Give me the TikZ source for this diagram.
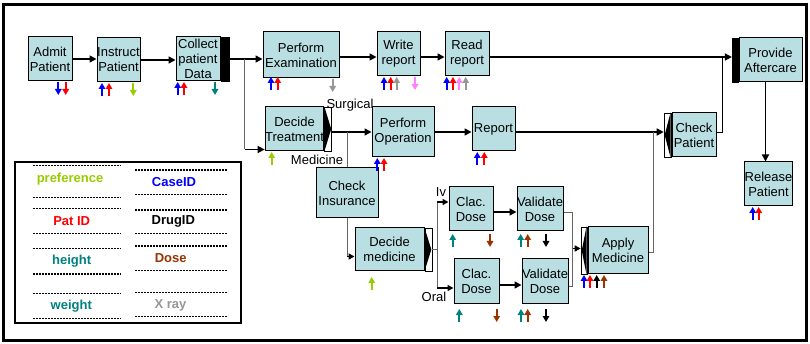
\documentclass[tikz,border=0pt]{standalone}
\usepackage{fontspec}
\setmainfont{Liberation Sans}
\usetikzlibrary{arrows.meta,calc}
\definecolor{boxfill}{RGB}{186,223,227}
\definecolor{cLime}{RGB}{153,204,0}
\definecolor{cBlue}{RGB}{0,0,255}
\definecolor{cRed}{RGB}{255,0,0}
\definecolor{cTeal}{RGB}{0,128,128}
\definecolor{cBrown}{RGB}{153,51,0}
\definecolor{cGray}{RGB}{150,150,150}
\definecolor{cPink}{RGB}{255,128,255}
% small data-flow marker below a task: #1 colour, #2 x, #3 top y, #4 1=up / 0=down
\newcommand\datamark[4]{%
  \ifnum#4=1
    \draw[mk,#1] (#2,#3+13) -- (#2,#3);
  \else
    \draw[mk,#1] (#2,#3) -- (#2,#3+13);
  \fi}
\begin{document}
\begin{tikzpicture}[x=1pt,y=-1pt,
  box/.style={draw=black, fill=boxfill, line width=1pt, inner sep=0pt,
    align=center, font=\fontsize{13}{15}\selectfont},
  andbar/.style={draw=black, fill=black, line width=0.6pt, inner sep=0pt},
  gate/.style={draw=black, fill=white, line width=0.8pt, inner sep=0pt},
  flow/.style={line width=1.6pt, -{Triangle[length=7pt,width=7pt]}},
  flowsm/.style={line width=1.6pt, -{Triangle[length=6pt,width=6pt]}},
  thinline/.style={line width=0.9pt, draw=black!60},
  mk/.style={line width=1.9pt, -{Triangle[length=6pt,width=6.5pt]}},
  lbl/.style={font=\fontsize{13}{15}\selectfont, inner sep=0pt},
  lg/.style={font=\bfseries\fontsize{13}{15}\selectfont, inner sep=0pt},
  legdash/.style={line width=1.3pt, dash pattern=on 2pt off 1pt}]
\useasboundingbox (0,0) rectangle (810,344);
\fill[white] (0,0) rectangle (810,344);
\draw[line width=3pt] (3,5) rectangle (806,340);

% ---------- tasks ----------
\node[box, minimum width=44pt, minimum height=44pt] (admit) at (50,59) {Admit\\Patient};
\node[box, minimum width=43pt, minimum height=44pt] (instruct) at (118.5,60) {Instruct\\Patient};
\node[box, minimum width=44pt, minimum height=44pt] (collect) at (198,59) {Collect\\patient\\Data};
\node[andbar, minimum width=8pt, minimum height=44pt, anchor=west] (collectbar) at (collect.east) {};
\node[box, minimum width=76pt, minimum height=46pt] (exam) at (301,55) {Perform\\Examination};
\node[box, minimum width=43pt, minimum height=44pt] (write) at (398.5,54) {Write\\report};
\node[box, minimum width=44pt, minimum height=44pt] (read) at (467,54) {Read\\report};
\node[box, minimum width=63pt, minimum height=44pt] (after) at (770.5,60) {Provide\\Aftercare};
\node[andbar, minimum width=6pt, minimum height=44pt, anchor=east] (afterbar) at (after.west) {};
\node[box, minimum width=45pt, minimum height=44pt] (release) at (768.5,184) {Release\\Patient};

\node[box, minimum width=57pt, minimum height=44pt] (treat) at (294.5,129) {Decide\\Treatment};
\node[gate, minimum width=7pt, minimum height=44pt, anchor=west] (treatgate) at (treat.east) {};
\fill (treatgate.north west) -- ([xshift=-1pt]treatgate.east) -- (treatgate.south west) -- cycle;
\node[box, minimum width=62pt, minimum height=50pt] (performop) at (403,132) {Perform\\Operation};
\node[box, minimum width=43pt, minimum height=44pt] (report) at (493.5,129) {Report};
\node[box, minimum width=44pt, minimum height=44pt] (checkp) at (694,135) {Check\\Patient};
\node[gate, minimum width=7pt, minimum height=44pt, anchor=east] (checkgate) at (checkp.west) {};
\fill ([xshift=-1pt]checkgate.north east) -- ([xshift=1pt]checkgate.west) -- ([xshift=-1pt]checkgate.south east) -- cycle;

\node[box, minimum width=62pt, minimum height=50pt] (checkins) at (347,193) {Check\\Insurance};
\node[box, minimum width=69pt, minimum height=43pt] (decidemed) at (389.5,249.5) {Decide\\medicine};
\node[gate, minimum width=7pt, minimum height=43pt, anchor=west] (medgate) at (decidemed.east) {};
\fill (medgate.north west) -- ([xshift=-1pt]medgate.east) -- (medgate.south west) -- cycle;

\node[box, minimum width=44pt, minimum height=44pt] (clac1) at (471,209) {Clac.\\Dose};
\node[box, minimum width=45pt, minimum height=44pt] (clac2) at (476.5,281) {Clac.\\Dose};
\node[box, minimum width=44pt, minimum height=44pt] (val1) at (540,209) {Validate\\Dose};
\node[box, minimum width=44pt, minimum height=44pt] (val2) at (545,281) {Validate\\Dose};
\node[box, minimum width=60pt, minimum height=47pt] (apply) at (618,250.5) {Apply\\Medicine};
\node[gate, minimum width=6pt, minimum height=47pt, anchor=east] (applygate) at (apply.west) {};
\fill ([xshift=-1pt]applygate.north east) -- ([xshift=1pt]applygate.west) -- ([xshift=-1pt]applygate.south east) -- cycle;

% ---------- connectors ----------
\coordinate (yTop) at (0,57);
\coordinate (yMid) at (0,132);
\draw[flow] (admit.east) -- (admit.east -| instruct.west);
\draw[flow] (instruct.east) -- (instruct.east -| collect.west);
\draw[flow] (collectbar.east) -- (collectbar.east -| exam.west);
\coordinate (split) at ($(collectbar.east)!0.47!(collectbar.east -| exam.west)$);
\coordinate (treatin) at ([yshift=2pt]treat.south west);
\draw[thinline] (split) -- (split |- treatin);
\draw[flow] (split |- treatin) -- (treatin);

\draw[flow] (exam.east |- yTop) -- (write.west |- yTop);
\draw[flow] (write.east |- yTop) -- (read.west |- yTop);
\draw[flow] (read.east |- yTop) -- (afterbar.west |- yTop);
\coordinate (cpout) at ([xshift=6pt]checkp.east);
\draw[line width=0.9pt] (checkp.east |- yMid) -- (cpout |- yMid) -- (cpout |- yTop);
\draw[flow] ([xshift=-3pt]release.north |- after.south) -- ([xshift=-3pt]release.north);

\draw[flow] (treatgate.east |- yMid) -- (performop.west |- yMid);
\draw[flow] (performop.east |- yMid) -- (report.west |- yMid);
\draw[flow] (report.east |- yMid) -- (checkgate.west |- yMid);
\draw[thinline] (checkins.north) -- (checkins.north |- yMid);

\coordinate (medin) at ([yshift=-7pt]decidemed.west);
\draw[thinline] (checkins.south) -- (checkins.south |- medin);
\draw[flowsm] (checkins.south |- medin) -- (medin);

\coordinate (msplit) at ([xshift=5pt]medgate.east);
\coordinate (ivin) at ([yshift=7pt]clac1.west);
\coordinate (oralin) at ([yshift=-7pt]clac2.west);
\draw[thinline] (medgate.east) -- (msplit);
\draw[thinline] (msplit |- ivin) -- (msplit |- oralin);
\draw[flowsm] (msplit |- ivin) -- (ivin);
\draw[flowsm] (msplit |- oralin) -- (oralin);

\draw[flow] ([yshift=-3pt]clac1.east) -- ([yshift=-3pt]clac1.east -| val1.west);
\draw[flow] ([yshift=-4pt]clac2.east) -- ([yshift=-4pt]clac2.east -| val2.west);

\coordinate (vj) at ([xshift=-8pt,yshift=2pt]applygate.west);
\draw[thinline] ([yshift=-3pt]val1.east) -- ([yshift=-3pt]val1.east -| vj)
  -- ([yshift=-5pt]val2.east -| vj) -- ([yshift=-5pt]val2.east);
\draw[flowsm] (vj) -- (vj -| applygate.west);
\coordinate (aout) at ([xshift=5pt,yshift=-2pt]apply.east);
\draw[thinline] ([yshift=-2pt]apply.east) -- (aout) -- (aout |- yMid);

% ---------- branch labels ----------
\node[lbl] (lsurg) at (350,105) {Surgical};
\node[lbl] (lmed) at (317,160) {Medicine};
\node[lbl] (liv) at (441,192) {Iv};
\node[lbl] (loral) at (434,297) {Oral};

% ---------- data markers ----------
\datamark{cBlue}{58.3}{82}{0}  \datamark{cRed}{65.7}{82}{0}
\datamark{cBlue}{102}{83}{1}   \datamark{cRed}{109}{83}{1}   \datamark{cLime}{133.3}{83}{0}
\datamark{cBlue}{177.7}{82}{1} \datamark{cRed}{184}{82}{1}   \datamark{cTeal}{215}{82}{0}
\datamark{cBlue}{271}{77}{1}   \datamark{cRed}{277.7}{77}{1} \datamark{cGray}{332.7}{79}{0}
\datamark{cBlue}{384}{77}{1}   \datamark{cRed}{390.7}{77}{1} \datamark{cGray}{396.7}{77}{1}
\datamark{cPink}{415}{77}{0}
\datamark{cBlue}{446.7}{77}{1} \datamark{cRed}{453}{77}{1}   \datamark{cPink}{459.3}{77}{1}
\datamark{cGray}{465.7}{77}{1}
\datamark{cLime}{271.7}{152}{1}
\datamark{cBlue}{377.3}{158}{1} \datamark{cRed}{384}{158}{1}
\datamark{cBlue}{477.3}{152}{1} \datamark{cRed}{484.3}{152}{1}
\datamark{cLime}{371.7}{277}{1}
\datamark{cTeal}{452.7}{234}{1} \datamark{cBrown}{490}{234}{0}
\datamark{cTeal}{520.7}{234}{1} \datamark{cBrown}{527.7}{234}{1} \datamark{black}{546}{234}{0}
\datamark{cTeal}{459.3}{309}{1} \datamark{cBrown}{496.7}{309}{0}
\datamark{cTeal}{521}{309}{1}   \datamark{cBrown}{527.7}{309}{1} \datamark{black}{546}{309}{0}
\datamark{cBlue}{584}{275}{1}   \datamark{cRed}{590}{275}{1}   \datamark{black}{596.7}{275}{1}
\datamark{cBrown}{604}{275}{1}
\datamark{cBlue}{752.7}{207}{1} \datamark{cRed}{758.7}{207}{1}

% ---------- legend ----------
\node[draw, line width=2pt, inner sep=0pt, minimum width=226pt, minimum height=160pt] (legend) at (128,242.5) {};
\foreach \y in {165.7,197.7,208.3,233.3,248.3,274,293.3,318.3}
  \draw[legdash] (33,\y) -- (121,\y);
\foreach \y in {170,194.3,210,233.3,246,270.7,292.7,316.7}
  \draw[legdash] (135,\y) -- (227,\y);
\node[lg, text=cLime] (kpref) at (70,179) {preference};
\node[lg, text=cRed] (kpat) at (71.7,221) {Pat ID};
\node[lg, text=cTeal] (kheight) at (71.7,261) {height};
\node[lg, text=cTeal] (kweight) at (71.3,306) {weight};
\node[lg, text=cBlue] (kcase) at (174,182.3) {CaseID};
\node[lg, text=black] (kdrug) at (173.3,221.7) {DrugID};
\node[lg, text=cBrown] (kdose) at (170.7,258.3) {Dose};
\node[lg, text=cGray] (kxray) at (170.5,305.7) {X ray};
\end{tikzpicture}
\end{document}
